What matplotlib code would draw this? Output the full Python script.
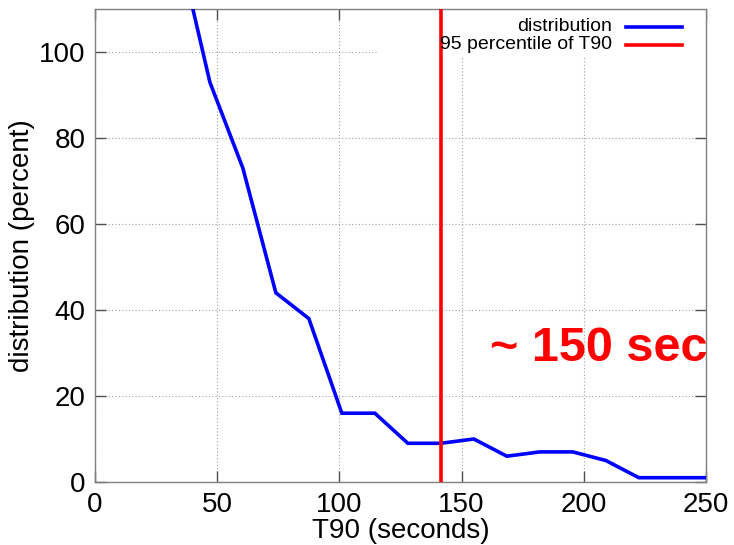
import matplotlib
matplotlib.use('Agg')
import matplotlib.pyplot as plt
from matplotlib.patches import Rectangle
from matplotlib.lines import Line2D

# distribution of T90
t90 = [33.5, 47, 60.5, 74, 87.5, 101, 114.5, 128, 141.5, 155, 168.5, 182, 195.5, 209, 222.5, 236, 250]
percent = [126, 93, 73, 44, 38, 16, 16, 9, 9, 10, 6, 7, 7, 5, 1, 1, 1]
percentile95 = 141.5
xticks = [0, 50, 100, 150, 200, 250]
yticks = [0, 20, 40, 60, 80, 100]

plt.rcParams['font.family'] = ['Liberation Sans', 'DejaVu Sans']

fig = plt.figure(figsize=(7.34, 5.45), dpi=100)
ax = fig.add_axes([0.1294, 0.1156, 0.8325, 0.8679])

ax.plot(t90, percent, color='#0000ff', lw=2.6, zorder=3, solid_joinstyle='miter')
ax.axvline(percentile95, color='#ff0000', lw=2.6, zorder=4)

ax.set_xlim(0, 250)
ax.set_ylim(0, 110)
ax.set_xticks(xticks)
ax.set_yticks(yticks)

ax.grid(True, color='#a0a0a0', linestyle=(0, (1, 2)), lw=0.8)
ax.set_axisbelow(True)

# key box hides the grid behind it
ax.add_patch(Rectangle((0.4615, 0.898), 0.54, 0.11, transform=ax.transAxes,
                       facecolor='white', edgecolor='none', zorder=1.8))

for s in ax.spines.values():
    s.set_color('#808080')
    s.set_linewidth(1.0)

ax.tick_params(direction='in', length=8, width=1, color='#505050',
               top=True, right=True, labelsize=20, pad=7)

ax.set_xlabel('T90 (seconds)', fontsize=20, labelpad=0)
ax.set_ylabel('distribution (percent)', fontsize=20, labelpad=3)

# key
ax.text(0.846, 0.962, 'distribution', transform=ax.transAxes, ha='right', va='center', fontsize=14, zorder=5)
ax.text(0.846, 0.924, '95 percentile of T90', transform=ax.transAxes, ha='right', va='center', fontsize=14, zorder=5)
ax.add_line(Line2D([0.869, 0.961], [0.962, 0.962], transform=ax.transAxes, color='#0000ff', lw=2.6, zorder=5))
ax.add_line(Line2D([0.869, 0.961], [0.924, 0.924], transform=ax.transAxes, color='#ff0000', lw=2.6, zorder=5))

ax.text(1.003, 0.256, '~ 150 sec', transform=ax.transAxes, ha='right', va='baseline',
        fontsize=35, fontweight='bold', color='#ff0000', clip_on=False, zorder=6)

fig.savefig('out.png', dpi=100)
